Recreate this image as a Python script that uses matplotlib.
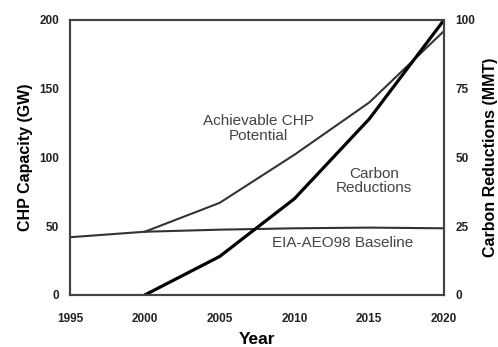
import matplotlib.pyplot as plt

plt.rcParams['font.family'] = ['Liberation Sans', 'DejaVu Sans']

years = [1995, 2000, 2005, 2010, 2015, 2020]
baseline_gw = [42, 46, 47.5, 48.5, 49, 48.5]
achievable_years = [2000, 2005, 2010, 2015, 2020]
achievable_gw = [46, 67, 102, 140, 192]
carbon_years = [2000, 2005, 2010, 2015, 2020]
carbon_mmt = [0, 14, 35, 64, 100]

fig = plt.figure(figsize=(4.98, 3.47), dpi=100)
ax = fig.add_axes([0.1406, 0.1499, 0.751, 0.7925])
ax2 = ax.twinx()

line_col = '#333333'
ax.plot(years, baseline_gw, color=line_col, lw=1.5)
ax.plot(achievable_years, achievable_gw, color=line_col, lw=1.5)
ax2.plot(carbon_years, carbon_mmt, color='black', lw=2.3)

ax.set_xlim(1995, 2020)
ax.set_ylim(0, 200)
ax2.set_ylim(0, 100)
ax.set_xticks(years)
ax.set_yticks([0, 50, 100, 150, 200])
ax2.set_yticks([0, 25, 50, 75, 100])

for a in (ax, ax2):
    a.tick_params(axis='y', length=0, labelsize=8.5, pad=8, colors='#222222')
    a.tick_params(axis='x', length=0, labelsize=8.5, pad=13, colors='#222222')
    for lab in a.get_xticklabels() + a.get_yticklabels():
        lab.set_fontweight('bold')
    for sp in a.spines.values():
        sp.set_color('#444444')
        sp.set_linewidth(1.5)

ax.set_xlabel('Year', fontsize=12.5, fontweight='bold', labelpad=5)
ax.set_ylabel('CHP Capacity (GW)', fontsize=11.5, fontweight='bold', labelpad=4)
ax2.set_ylabel('Carbon Reductions (MMT)', fontsize=11.5, fontweight='bold', labelpad=6)

txt_col = '#444444'
ax.text(2007.6, 121, 'Achievable CHP\nPotential', ha='center', va='center',
        fontsize=11, color=txt_col, linespacing=1.05)
ax.text(2015.3, 83, 'Carbon\nReductions', ha='center', va='center',
        fontsize=11, color=txt_col, linespacing=1.05)
ax.text(2013.2, 38, 'EIA-AEO98 Baseline', ha='center', va='center',
        fontsize=11, color=txt_col)

plt.savefig('out.png', dpi=100)
